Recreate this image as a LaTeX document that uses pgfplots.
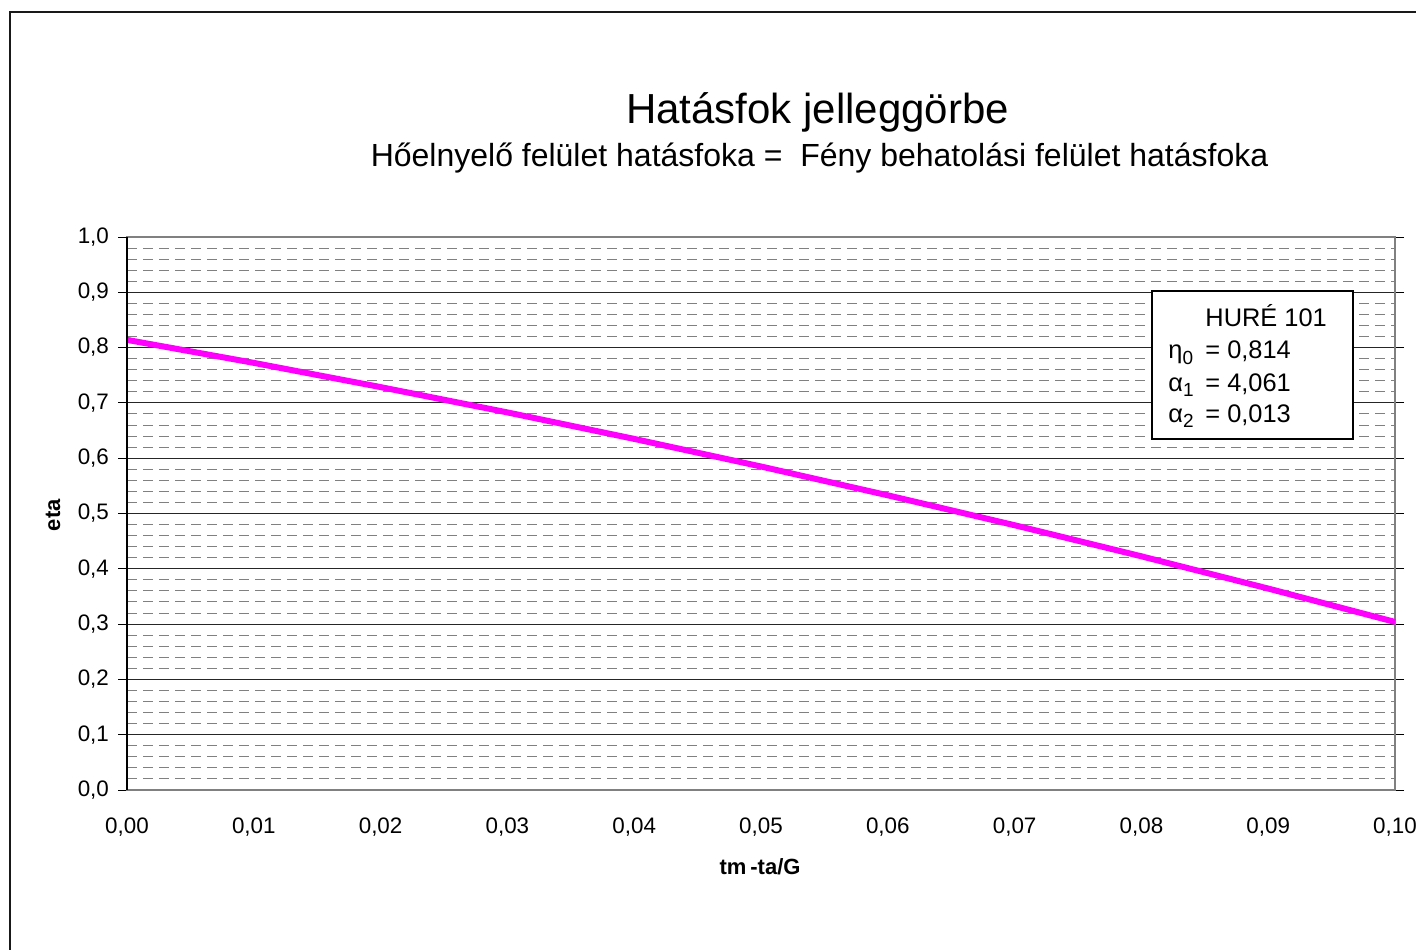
\documentclass[border=0pt]{standalone}
\usepackage{pgfplots}
\pgfplotsset{compat=1.18}
\usepackage{fontspec}
\setmainfont{Liberation Sans}
\definecolor{curve}{RGB}{255,0,255}
\definecolor{frame}{RGB}{128,128,128}
\newcommand{\sub}[1]{\raisebox{-0.4ex}{\fontsize{9.5}{10}\selectfont #1}}
\begin{document}
\begin{tikzpicture}
% picture = 1416 x 949 px, 1 px = 0.5pt
\useasboundingbox (0,0) rectangle (708pt,474.5pt);
\draw[line width=1pt, black!90] (5pt,-20pt) -- (5pt,468.5pt) -- (730pt,468.5pt);

\node[font=\fontsize{21}{25}\selectfont] at (408.75pt,418.5pt) {Hatásfok jelleggörbe};
\node[font=\fontsize{16}{19}\selectfont] at (409.75pt,395.5pt) {Hőelnyelő felület hatásfoka =\ \ Fény behatolási felület hatásfoka};

\begin{axis}[
    at={(63.5pt,79.5pt)}, anchor=south west,
    width=634pt, height=276.5pt, scale only axis,
    xmin=0, xmax=0.1, ymin=0, ymax=1,
    xtick={0,0.01,...,0.1001},
    ytick={0,0.1,...,1.001},
    minor y tick num=4,
    /pgf/number format/assume math mode=true,
    /pgf/number format/use comma,
    /pgf/number format/fixed,
    /pgf/number format/fixed zerofill,
    xticklabel style={/pgf/number format/precision=2, font=\fontsize{11.2}{13}\selectfont, yshift=-6pt},
    yticklabel style={/pgf/number format/precision=1, font=\fontsize{11.2}{13}\selectfont, xshift=-1pt},
    scaled x ticks=false,
    tick align=outside,
    major tick length=4.5pt,
    minor tick length=0pt,
    xtick style={draw=none},
    ytick style={black, line width=0.5pt},
    axis line style={frame, line width=0.6pt},
    ymajorgrids, yminorgrids,
    major grid style={black!85, line width=0.5pt},
    minor grid style={frame, line width=0.5pt, dash pattern=on 5pt off 3pt},
    xlabel={\bfseries tm\kern2pt-ta/G},
    ylabel={\bfseries eta},
    xlabel style={font=\fontsize{11}{13}\selectfont, at={(axis description cs:0.4992,-0.139)}, anchor=center},
    ylabel style={font=\fontsize{11}{13}\selectfont, at={(axis description cs:-0.0584,0.497)}, anchor=center},
    clip=false,
]
\addplot[curve, line width=3pt] table {
x eta
0.00 0.8140
0.01 0.7724
0.02 0.7286
0.03 0.6828
0.04 0.6349
0.05 0.5850
0.06 0.5329
0.07 0.4788
0.08 0.4226
0.09 0.3643
0.10 0.3039
};
\draw[black, line width=0.6pt] (rel axis cs:0,0) -- (rel axis cs:0,1);
\end{axis}

% parameter box
\draw[line width=1pt, fill=white] (576pt,255pt) rectangle (676.5pt,329pt);
\begin{scope}[every node/.style={font=\fontsize{12.7}{15}\selectfont, inner sep=0pt, anchor=base west}]
\node at (602.5pt,311pt) {HURÉ 101};
\node at (584pt,295pt) {η\sub{0}};
\node at (602.5pt,295pt) {= 0,814};
\node at (584pt,279pt) {α\sub{1}};
\node at (602.5pt,279pt) {= 4,061};
\node at (584pt,263.5pt) {α\sub{2}};
\node at (602.5pt,263.5pt) {= 0,013};
\end{scope}
\end{tikzpicture}
\end{document}
